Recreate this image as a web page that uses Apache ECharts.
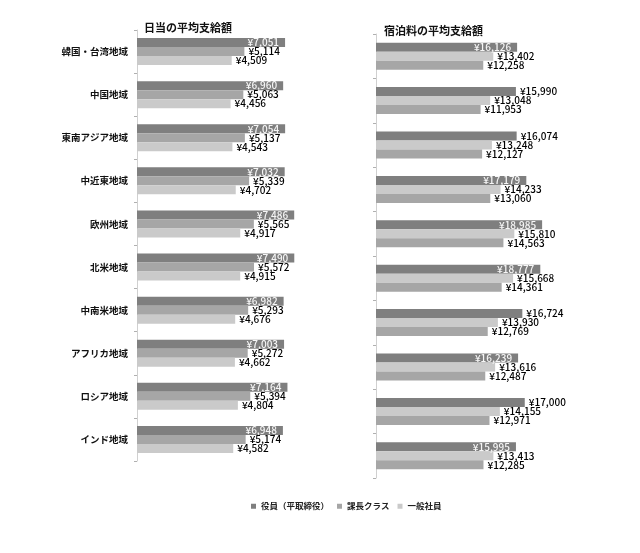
<!DOCTYPE html>
<html><head><meta charset="utf-8">
<script src="https://cdn.jsdelivr.net/npm/echarts@6/dist/echarts.min.js"></script>
<style>html,body{margin:0;padding:0;background:#fff}#c{width:640px;height:553px}</style>
</head><body><div id="c"></div>
<script>
const categories = ['韓国・台湾地域','中国地域','東南アジア地域','中近東地域','欧州地域','北米地域','中南米地域','アフリカ地域','ロシア地域','インド地域'];
const seriesNames = ['役員（平取締役）','課長クラス','一般社員'];
const dailyExec = [7051,6960,7054,7032,7486,7490,6982,7003,7164,6948];
const dailyMgr = [5114,5063,5137,5339,5565,5572,5293,5272,5394,5174];
const dailyStaff = [4509,4456,4543,4702,4917,4915,4676,4662,4804,4582];
const lodgingExec = [16126,15990,16074,17179,18985,18777,16724,16239,17000,15995];
const lodgingMgr = [13402,13048,13248,14233,15810,15668,13930,13616,14155,13413];
const lodgingStaff = [12258,11953,12127,13060,14563,14361,12769,12487,12971,12285];
const lodgingInsideIdx = [0,3,4,5,7,9];

const FONT = '"Noto Sans CJK JP", "Noto Sans", sans-serif';
const cDark = '#7f7f7f', cMid = '#a6a6a6', cLight = '#cacaca';
const fmt = p => '¥' + Number(p.value).toLocaleString('en-US');
const outLabel = {show:true, position:'right', distance:4, color:'#000', fontSize:10, fontWeight:500, fontFamily:FONT, formatter:fmt};
const inLabel = {show:true, position:'insideRight', distance:6, color:'#f6f6f6', fontSize:10, fontWeight:500, fontFamily:FONT, formatter:fmt, textBorderWidth:0, textBorderColor:'transparent'};

function bar(name, data, color, gi, label){
  return {name, type:'bar', xAxisIndex:gi, yAxisIndex:gi, data, barWidth:9, barGap:'0%',
    itemStyle:{color}, label, silent:true};
}
const lodgingExecData = lodgingExec.map((v,i)=> lodgingInsideIdx.includes(i) ? {value:v, label:inLabel} : {value:v});

const chart = echarts.init(document.getElementById('c'), null, {renderer:'canvas'});
chart.setOption({
  animation:false,
  backgroundColor:'#fff',
  title:[
    {text:'日当の平均支給額', left:139, top:17, textStyle:{fontSize:11, fontWeight:'bold', color:'#111', fontFamily:FONT}},
    {text:'宿泊料の平均支給額', left:379, top:20, textStyle:{fontSize:11, fontWeight:'bold', color:'#111', fontFamily:FONT}}
  ],
  legend:{data:seriesNames, left:246, top:497, itemWidth:5, itemHeight:5, itemGap:8, icon:'rect',
    textStyle:{fontSize:8.5, fontWeight:'bold', color:'#222', fontFamily:FONT}},
  grid:[
    {left:137, top:30, width:168, height:431},
    {left:376, top:34, width:175, height:444}
  ],
  xAxis:[
    {gridIndex:0, type:'value', min:0, max:8000, show:false},
    {gridIndex:1, type:'value', min:0, max:20000, show:false}
  ],
  yAxis:[
    {gridIndex:0, type:'category', data:categories, inverse:true,
      axisLine:{show:true, lineStyle:{color:'#d0d0d0'}}, axisTick:{show:true, length:3, lineStyle:{color:'#b0b0b0'}},
      axisLabel:{fontSize:9.5, fontWeight:'bold', color:'#111', fontFamily:FONT, margin:9}},
    {gridIndex:1, type:'category', data:categories, inverse:true,
      axisLine:{show:true, lineStyle:{color:'#d0d0d0'}}, axisTick:{show:true, length:3, lineStyle:{color:'#b0b0b0'}},
      axisLabel:{show:false}}
  ],
  series:[
    bar(seriesNames[0], dailyExec, cDark, 0, inLabel),
    bar(seriesNames[1], dailyMgr, cMid, 0, outLabel),
    bar(seriesNames[2], dailyStaff, cLight, 0, outLabel),
    bar(seriesNames[0], lodgingExecData, cDark, 1, outLabel),
    bar(seriesNames[1], lodgingMgr, cLight, 1, outLabel),
    bar(seriesNames[2], lodgingStaff, cMid, 1, outLabel)
  ]
});
</script></body></html>
